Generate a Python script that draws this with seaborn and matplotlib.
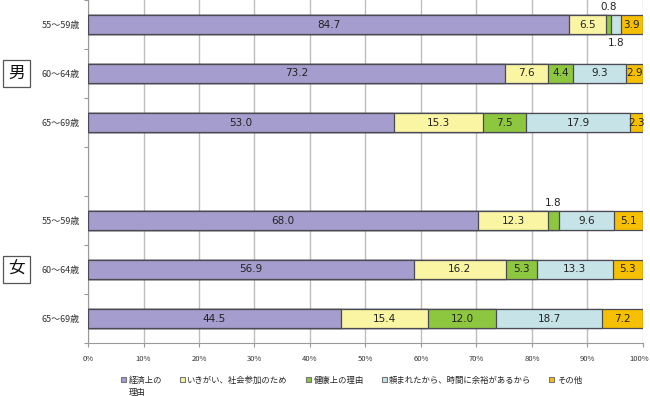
import numpy as np
import pandas as pd
import matplotlib
matplotlib.use("Agg")
import matplotlib.pyplot as plt
import seaborn as sns
from matplotlib.patches import Patch
from matplotlib.transforms import blended_transform_factory, ScaledTranslation
from matplotlib.ticker import FixedLocator, PercentFormatter

sns.set_theme(style="white")
plt.rcParams["font.family"] = ["Noto Sans CJK JP", "DejaVu Sans"]

# ---- data ----
groups = ["男", "女"]
ages = ["55～59歳", "60～64歳", "65～69歳"]
reasons = ["経済上の\n理由", "いきがい、社会参加のため", "健康上の理由",
           "頼まれたから、時間に余裕があるから", "その他"]
# rows: 男 55-59, 60-64, 65-69, 女 55-59, 60-64, 65-69
keizai = [84.7, 73.2, 53.0, 68.0, 56.9, 44.5]
ikigai = [6.5, 7.6, 15.3, 12.3, 16.2, 15.4]
kenko = [0.8, 4.4, 7.5, 1.8, 5.3, 12.0]
tanomare = [1.8, 9.3, 17.9, 9.6, 13.3, 18.7]
sonota = [3.9, 2.9, 2.3, 5.1, 5.3, 7.2]

colors = ["#A59DCD", "#FAF5A2", "#8DC63F", "#C6E3E8", "#F6C000"]

series = [keizai, ikigai, kenko, tanomare, sonota]
rows = [f"{g} {a}" for g in groups for a in ages]
order = rows[:3] + [" "] + rows[3:]
vals = np.array(series, dtype=float).T            # rows x series
pct = vals / vals.sum(axis=1, keepdims=True) * 100  # 100% stacked
cum = np.cumsum(pct, axis=1)

df = pd.DataFrame({"row": rows})
for i in range(len(series)):
    df[f"cum{i}"] = cum[:, i]

fig = plt.figure(figsize=(6.5, 3.96), dpi=100)
ax = fig.add_axes([88 / 650, 1 - 343 / 396, (643 - 88) / 650, 343 / 396])

for i in reversed(range(len(series))):
    sns.barplot(data=df, x=f"cum{i}", y="row", order=order, orient="h",
                color=colors[i], saturation=1, width=0.4,
                edgecolor="#4a4a55", linewidth=0.9, ax=ax, zorder=3)

# value labels
special = {(0, 2): -0.36, (0, 3): 0.37, (3, 2): -0.36}
for r, key in enumerate(rows):
    ypos = order.index(key)
    for i in range(len(series)):
        x = cum[r, i] - pct[r, i] / 2
        off = special.get((r, i), 0.0)
        ax.text(x, ypos + off, f"{vals[r, i]:.1f}", ha="center", va="center",
                fontsize=7.5, color="#222222", zorder=5,
                family=["DejaVu Sans"])

ax.set_xlim(0, 100)
ax.set_ylim(len(order) - 0.5, -0.5)
ax.xaxis.set_major_locator(FixedLocator(np.arange(0, 101, 10)))
ax.xaxis.set_major_formatter(PercentFormatter(decimals=0))
ax.grid(axis="x", color="#BDBDBD", linewidth=1, zorder=0)
ax.set_axisbelow(True)
ax.set_xlabel("")
ax.set_ylabel("")

labels = [k.split(" ")[1] if k.strip() else "" for k in order]
ax.set_yticks(range(len(order)))
ax.set_yticklabels(labels, fontsize=6.5, color="#333333")
ax.set_yticks(np.arange(-0.5, len(order), 1), minor=True)
ax.tick_params(axis="y", which="major", length=0, pad=6)
ax.tick_params(axis="y", which="minor", length=3, color="#999999", width=0.8, left=True)
ax.tick_params(axis="x", length=3, color="#999999", width=0.8, bottom=True,
               labelsize=5.5, labelcolor="#333333", pad=5.5)

for s in ["top", "right"]:
    ax.spines[s].set_visible(False)
for s in ["left", "bottom"]:
    ax.spines[s].set_color("#999999")
    ax.spines[s].set_linewidth(0.8)

# keep the last x tick label inside the figure
last = ax.get_xticklabels()[-1]
last.set_transform(last.get_transform() + ScaledTranslation(-4 / 100, 0, fig.dpi_scale_trans))

# group boxes
tr = blended_transform_factory(fig.transFigure, ax.transData)
for g, center in zip(groups, [order.index(rows[1]), order.index(rows[4])]):
    fig.text(16.5 / 650, center, g, transform=tr, ha="center", va="center",
             fontsize=12, color="#111111",
             bbox=dict(boxstyle="square,pad=0.3", facecolor="white",
                       edgecolor="#555555", linewidth=0.9))

# legend: first line of each label in the legend, wrapped remainder below
first_lines = [r.split("\n")[0] for r in reasons]
handles = [Patch(facecolor=c, edgecolor="#777777", linewidth=0.8) for c in colors]
leg = fig.legend(handles, first_lines, loc="center left",
                 bbox_to_anchor=(121 / 650, 1 - 380 / 396),
                 ncol=5, frameon=False, fontsize=6.0, handlelength=0.6,
                 handleheight=0.6, handletextpad=0.3, columnspacing=2.15,
                 borderpad=0, borderaxespad=0, labelcolor="#222222")
fig.canvas.draw()
inv = fig.transFigure.inverted()
for txt, full in zip(leg.get_texts(), reasons):
    parts = full.split("\n")
    if len(parts) > 1:
        bb = txt.get_window_extent()
        x0, y0 = inv.transform((bb.x0, bb.y0))
        fig.text(x0, y0 - 3.5 / 396, "\n".join(parts[1:]),
                 ha="left", va="top", fontsize=6.0, color="#222222")

fig.savefig("out.png", dpi=100)
